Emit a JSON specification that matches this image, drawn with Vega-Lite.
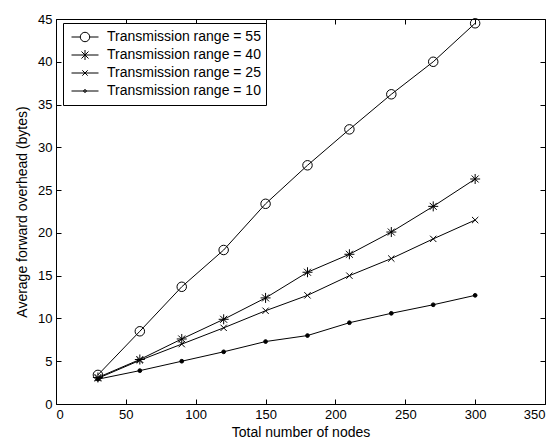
{
  "$schema": "https://vega.github.io/schema/vega-lite/v6.json",
  "width": 489,
  "height": 385,
  "autosize": {"type": "none"},
  "padding": {"left": 56, "top": 19, "right": 12, "bottom": 39},
  "background": "white",
  "config": {
    "view": {"stroke": "black", "strokeWidth": 1},
    "font": "Liberation Sans",
    "axis": {
      "domain": false,
      "grid": false,
      "tickColor": "black",
      "tickSize": -5,
      "labelColor": "black",
      "labelFontSize": 13,
      "labelFont": "Liberation Sans",
      "titleFont": "Liberation Sans",
      "titleFontSize": 14,
      "titleFontWeight": "normal",
      "titleColor": "black"
    }
  },
  "data": {
    "values": [
      {"nodes": 30, "overhead": 3.4, "range": "55"},
      {"nodes": 60, "overhead": 8.5, "range": "55"},
      {"nodes": 90, "overhead": 13.7, "range": "55"},
      {"nodes": 120, "overhead": 18.0, "range": "55"},
      {"nodes": 150, "overhead": 23.4, "range": "55"},
      {"nodes": 180, "overhead": 27.9, "range": "55"},
      {"nodes": 210, "overhead": 32.1, "range": "55"},
      {"nodes": 240, "overhead": 36.2, "range": "55"},
      {"nodes": 270, "overhead": 40.0, "range": "55"},
      {"nodes": 300, "overhead": 44.5, "range": "55"},
      {"nodes": 30, "overhead": 3.1, "range": "40"},
      {"nodes": 60, "overhead": 5.2, "range": "40"},
      {"nodes": 90, "overhead": 7.6, "range": "40"},
      {"nodes": 120, "overhead": 9.9, "range": "40"},
      {"nodes": 150, "overhead": 12.4, "range": "40"},
      {"nodes": 180, "overhead": 15.4, "range": "40"},
      {"nodes": 210, "overhead": 17.5, "range": "40"},
      {"nodes": 240, "overhead": 20.1, "range": "40"},
      {"nodes": 270, "overhead": 23.1, "range": "40"},
      {"nodes": 300, "overhead": 26.3, "range": "40"},
      {"nodes": 30, "overhead": 3.0, "range": "25"},
      {"nodes": 60, "overhead": 5.1, "range": "25"},
      {"nodes": 90, "overhead": 7.0, "range": "25"},
      {"nodes": 120, "overhead": 8.9, "range": "25"},
      {"nodes": 150, "overhead": 10.9, "range": "25"},
      {"nodes": 180, "overhead": 12.7, "range": "25"},
      {"nodes": 210, "overhead": 15.0, "range": "25"},
      {"nodes": 240, "overhead": 17.0, "range": "25"},
      {"nodes": 270, "overhead": 19.3, "range": "25"},
      {"nodes": 300, "overhead": 21.5, "range": "25"},
      {"nodes": 30, "overhead": 2.9, "range": "10"},
      {"nodes": 60, "overhead": 3.9, "range": "10"},
      {"nodes": 90, "overhead": 5.0, "range": "10"},
      {"nodes": 120, "overhead": 6.1, "range": "10"},
      {"nodes": 150, "overhead": 7.3, "range": "10"},
      {"nodes": 180, "overhead": 8.0, "range": "10"},
      {"nodes": 210, "overhead": 9.5, "range": "10"},
      {"nodes": 240, "overhead": 10.6, "range": "10"},
      {"nodes": 270, "overhead": 11.6, "range": "10"},
      {"nodes": 300, "overhead": 12.7, "range": "10"}
    ]
  },
  "layer": [
    {
      "mark": {"type": "line", "color": "black", "strokeWidth": 1},
      "encoding": {
        "x": {
          "field": "nodes", "type": "quantitative",
          "scale": {"domain": [0, 350], "nice": false, "zero": false},
          "axis": {"orient": "bottom", "values": [0, 50, 100, 150, 200, 250, 300, 350], "title": "Total number of nodes", "labelPadding": 9, "titlePadding": 4}
        },
        "y": {
          "field": "overhead", "type": "quantitative",
          "scale": {"domain": [0, 45], "nice": false, "zero": false},
          "axis": {"orient": "left", "values": [0, 5, 10, 15, 20, 25, 30, 35, 40, 45], "title": "Average forward overhead (bytes)", "labelPadding": 9, "titlePadding": 8}
        },
        "detail": {"field": "range", "type": "nominal"}
      }
    },
    {
      "mark": {"type": "point", "stroke": "black", "strokeWidth": 1, "opacity": 1},
      "encoding": {
        "x": {"field": "nodes", "type": "quantitative", "axis": null},
        "y": {"field": "overhead", "type": "quantitative", "axis": null},
        "shape": {
          "field": "range", "type": "nominal",
          "scale": {
            "domain": ["55", "40", "25", "10"],
            "range": [
              "circle",
              "M-1,0L1,0M0,-1L0,1M-0.7,-0.7L0.7,0.7M-0.7,0.7L0.7,-0.7",
              "M-1,-1L1,1M-1,1L1,-1",
              "circle"
            ]
          },
          "legend": null
        },
        "size": {
          "condition": [
            {"test": "datum.range == '10'", "value": 14},
            {"test": "datum.range == '25'", "value": 40},
            {"test": "datum.range == '40'", "value": 100}
          ],
          "value": 90
        },
        "fill": {
          "condition": {"test": "datum.range == '10'", "value": "black"},
          "value": "transparent"
        }
      }
    },
    {
      "mark": {"type": "point", "opacity": 0, "filled": false, "color": "black"},
      "encoding": {
        "x": {
          "field": "nodes", "type": "quantitative",
          "axis": {"orient": "top", "values": [0, 50, 100, 150, 200, 250, 300, 350], "labels": false, "title": null}
        },
        "y": {
          "field": "overhead", "type": "quantitative",
          "axis": {"orient": "right", "values": [0, 5, 10, 15, 20, 25, 30, 35, 40, 45], "labels": false, "title": null}
        },
        "shape": {
          "field": "range", "type": "nominal",
          "scale": {
            "domain": ["55", "40", "25", "10"],
            "range": [
              "M-1,0L-0.35,0M0.35,0L1,0M0.35,0A0.35,0.35,0,1,1,-0.35,0A0.35,0.35,0,1,1,0.35,0",
              "M-1,0L1,0M0,-0.37L0,0.37M-0.26,-0.26L0.26,0.26M-0.26,0.26L0.26,-0.26",
              "M-1,0L1,0M-0.2,-0.2L0.2,0.2M-0.2,0.2L0.2,-0.2",
              "M-1,0L1,0M0.1,0A0.1,0.1,0,1,1,-0.1,0A0.1,0.1,0,1,1,0.1,0"
            ]
          },
          "legend": {
            "orient": "none",
            "legendX": 7,
            "legendY": 4,
            "title": null,
            "padding": 5,
            "fillColor": "white",
            "strokeColor": "black",
            "symbolSize": 729,
            "symbolOffset": 3,
            "symbolOpacity": 1,
            "symbolFillColor": "transparent",
            "symbolStrokeColor": "black",
            "symbolStrokeWidth": 1,
            "clipHeight": 18,
            "rowPadding": 0,
            "labelOffset": 8,
            "labelFontSize": 14,
            "labelLimit": 300,
            "labelColor": "black",
            "labelFont": "Liberation Sans",
            "labelExpr": "'Transmission range = ' + datum.label"
          }
        }
      }
    }
  ],
  "resolve": {"axis": {"x": "independent", "y": "independent"}, "scale": {"shape": "independent"}}
}
